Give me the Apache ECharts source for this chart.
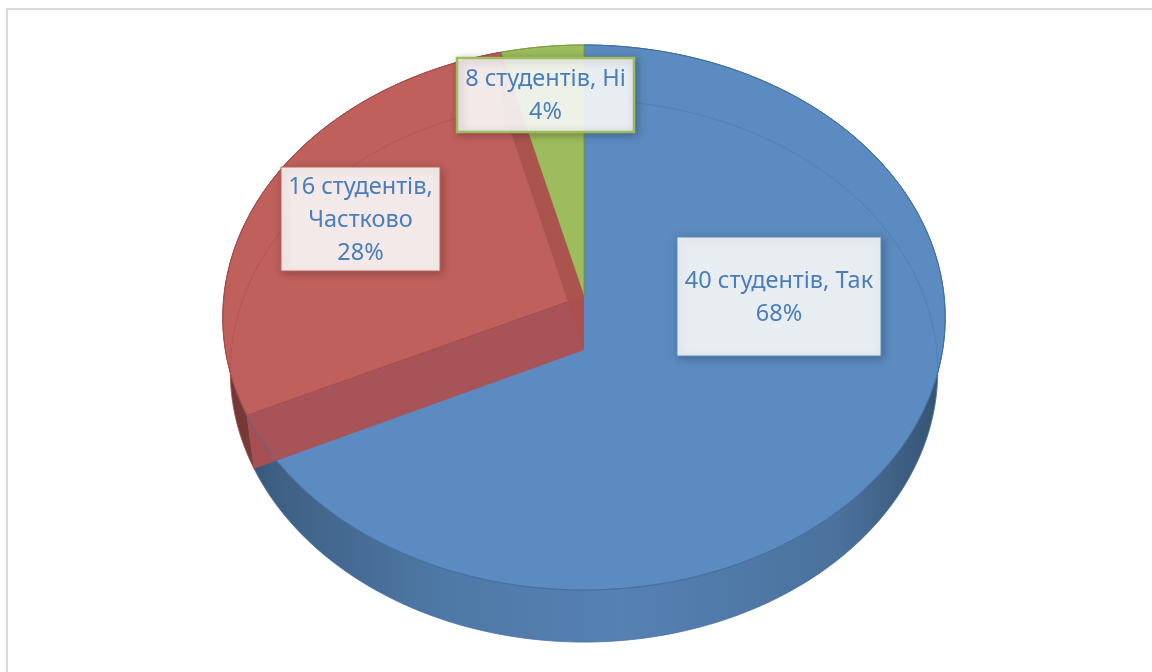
<!DOCTYPE html>
<html>
<head>
<meta charset="utf-8">
<script src="https://cdn.jsdelivr.net/npm/echarts@6/dist/echarts.min.js"></script>
<style>
  html, body { margin: 0; padding: 0; background: #fff; }
  #pieChart { width: 1152px; height: 672px; }
</style>
</head>
<body>
<div id="pieChart"></div>
<script>
// дані
var categories = ['Так', 'Частково', 'Ні'];
var studentCounts = [40, 16, 8];
var percentValues = [68, 28, 4];

// стилі
var sliceColors = ['#5b8bc0', '#c0605c', '#9dbc5c'];
var rimColors = ['#4670a3', '#a54a47', '#809f45'];
var faceColors = ['#4d78ab', '#ad4f4f', '#83a049'];
var labelBoxes = [
  { x: 677, y: 237, w: 204, h: 119 },
  { x: 281, y: 167, w: 159, h: 104 },
  { x: 457, y: 58, w: 177, h: 74 }
];
var labelBreaks = [', ', ',\n', ', '];
var labelBorderWidths = [1, 1, 2.5];

// перспектива диска
var CX = 584, CY = 296, FOCAL = 3007, DIST = 8.352;
var SIN_T = 0.7522, COS_T = 0.6589, DEPTH = 0.2324;

var total = percentValues.reduce(function (a, b) { return a + b; }, 0);

function project(theta, r, down) {
  var a = theta * Math.PI / 180;
  var X = r * Math.sin(a), Z = r * Math.cos(a), Y = down ? -DEPTH : 0;
  var v = Y * COS_T + Z * SIN_T;
  var w = DIST + Z * COS_T - Y * SIN_T;
  return [CX + FOCAL * X / w, CY - FOCAL * v / w];
}

function arc(t1, t2, down) {
  var pts = [];
  var n = Math.max(2, Math.ceil(Math.abs(t2 - t1)));
  for (var k = 0; k <= n; k++) {
    pts.push(project(t1 + (t2 - t1) * k / n, 1, down));
  }
  return pts;
}

function shade(hex, k) {
  var n = parseInt(hex.slice(1), 16);
  var r = Math.round(((n >> 16) & 255) * k);
  var g = Math.round(((n >> 8) & 255) * k);
  var b = Math.round((n & 255) * k);
  return 'rgb(' + r + ',' + g + ',' + b + ')';
}

function wallFill(i) {
  var left = project(270, 1, false)[0] - 2, right = project(90, 1, false)[0] + 2;
  var c = sliceColors[i];
  return new echarts.graphic.LinearGradient(left, 0, right, 0, [
    { offset: 0, color: shade(c, 0.55) },
    { offset: 0.07, color: shade(c, 0.68) },
    { offset: 0.3, color: shade(c, 0.86) },
    { offset: 0.55, color: shade(c, 0.93) },
    { offset: 0.85, color: shade(c, 0.82) },
    { offset: 1, color: shade(c, 0.58) }
  ], true);
}

function renderItem(params, api) {
  var i = params.dataIndex;
  var start = 0;
  for (var j = 0; j < i; j++) start += percentValues[j];
  var t1 = start / total * 360;
  var t2 = (start + api.value(0)) / total * 360;
  var span = t2 - t1;
  var topArc = arc(t1, t2, false);
  var botArc = arc(t1, t2, true);
  var c0 = project(0, 0, false), c1 = project(0, 0, true);
  var children = [];

  // бокова стінка
  children.push({
    type: 'polygon', z2: 1,
    shape: { points: topArc.concat(botArc.slice().reverse()) },
    style: { fill: wallFill(i), stroke: rimColors[i], lineWidth: 0.6 }
  });
  // верхня грань
  children.push({
    type: 'polygon', z2: 3,
    shape: { points: [c0].concat(topArc) },
    style: { fill: sliceColors[i], stroke: rimColors[i], lineWidth: 1 }
  });
  // торці сектора, видимі крізь прозорість
  if (span < 180) {
    [t1, t2].forEach(function (t) {
      children.push({
        type: 'polygon', z2: 4 + span / 360,
        shape: { points: [c0, project(t, 1, false), project(t, 1, true), c1] },
        style: { fill: faceColors[i], opacity: 0.93 }
      });
    });
  }
  // нижній край, що просвічує
  children.push({
    type: 'polyline', z2: 6,
    shape: { points: botArc },
    style: { fill: null, stroke: rimColors[i], lineWidth: 1, opacity: 0.45 }
  });
  children.push({
    type: 'polyline', z2: 7,
    shape: { points: topArc },
    style: { fill: null, stroke: rimColors[i], lineWidth: 1, opacity: 0.75 }
  });

  // підпис
  var box = labelBoxes[i];
  children.push({
    type: 'rect', z2: 10,
    shape: { x: box.x, y: box.y, width: box.w, height: box.h },
    style: {
      fill: 'rgba(255,255,255,0.88)', stroke: sliceColors[i], lineWidth: labelBorderWidths[i],
      shadowBlur: 8, shadowColor: 'rgba(0,0,0,0.28)', shadowOffsetX: 2, shadowOffsetY: 2
    }
  });
  children.push({
    type: 'text', z2: 11,
    style: {
      text: studentCounts[i] + ' студентів' + labelBreaks[i] + categories[i] + '\n' + api.value(0) + '%',
      x: box.x + box.w / 2, y: box.y + box.h / 2 + 1,
      align: 'center', verticalAlign: 'middle',
      fill: '#4a7ebb', fontSize: 23.5, fontFamily: 'Noto Sans', lineHeight: 33
    }
  });

  return { type: 'group', children: children };
}

var pieChart = echarts.init(document.getElementById('pieChart'));

var option = {
  backgroundColor: '#fff',
  animation: false,
  graphic: [{
    type: 'rect',
    shape: { x: 7, y: 9, width: 1200, height: 700 },
    style: { fill: null, stroke: '#d9d9d9', lineWidth: 2 }
  }],
  series: [{
    type: 'custom',
    coordinateSystem: 'none',
    renderItem: renderItem,
    data: percentValues
  }]
};

pieChart.setOption(option);
</script>
</body>
</html>
